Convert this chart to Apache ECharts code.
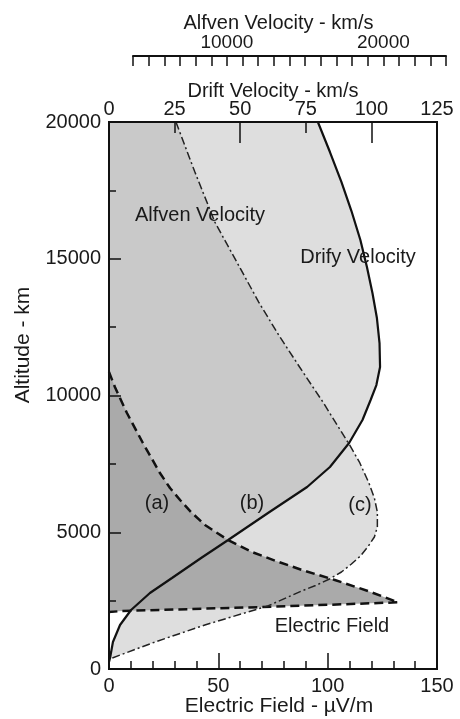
<!DOCTYPE html>
<html><head><meta charset="utf-8">
<script src="https://cdn.jsdelivr.net/npm/echarts@6/dist/echarts.min.js"></script>
<style>html,body{margin:0;padding:0;background:#fff}#c{width:460px;height:719px}</style>
</head><body><div id="c"></div>
<script>
// Drift velocity (km/s) vs altitude (km)
const DRIFT_CURVE = [
  [79.6,20000],[84.2,18902],[88.6,17805],[92.4,16745],[95.8,15685],[98.3,14698],
  [100.4,13747],[102.1,12833],[103.1,11919],[103.3,11041],[101.9,10383],[99.7,9835],
  [96.6,9104],[91.5,8263],[84.2,7385],[75.5,6654],[60.6,5703],[45.4,4716],[35.1,4058],
  [24.0,3327],[15.6,2779],[8.4,2157],[4.2,1609],[1.5,987],[0.4,402],[0,256]
];
// Alfven velocity (km/s) vs altitude (km)
const ALFVEN_CURVE = [
  [6761,20000],[7975,18170],[9253,16342],[10659,14879],[12064,13417],[13342,12211],
  [14684,11041],[16218,9725],[17686,8373],[17815,8263],[18518,7568],[19126,6800],
  [19477,6252],[19668,5740],[19668,5192],[19477,4826],[19093,4497],[18582,4131],
  [18007,3839],[17367,3546],[16600,3290],[15706,3053],[14812,2852],[12640,2303],
  [8614,1609],[5419,987],[2671,402],[2479,366]
];
// Electric field (uV/m) vs altitude (km)
const EFIELD_CURVE = [
  [0,10860],[2.7,10310],[8.2,9359],[15.5,8263],[23.3,7166],[27.9,6617],[32.5,6179],
  [37.5,5740],[43.9,5265],[54.4,4716],[65.4,4278],[76.4,3948],[88.3,3619],[103.3,3254],
  [118.4,2852],[132.2,2440],[119.4,2401],[74.5,2277],[5.9,2120],[0,2083]
];
const CROSS_ALT = 8263;      // drift / alfven crossing
const B_ALT = 4716;          // drift / e-field crossing (b)
const LOW_ALT = 2157;        // drift meets lower e-field edge
const REGION_LABELS = ['(a)','(b)','(c)'];

const FONT = '"Liberation Sans", Arial, sans-serif';
const TXT = '#1a1a1a';
const BLK = '#111';
const chart = echarts.init(document.getElementById('c'));

const tickStyle = {color: BLK, width: 1.5};
const option = {
  animation: false,
  backgroundColor: '#fff',
  grid: [
    {left: 109, right: 23, top: 122, bottom: 50, show: true, borderColor: BLK, borderWidth: 2,
     backgroundColor: 'transparent', z: 8, containLabel: false, outerBoundsMode: 'none'},
    {left: 133, right: 14, top: 55, height: 1, show: false, containLabel: false, outerBoundsMode: 'none'}
  ],
  xAxis: [
    {gridIndex: 0, type: 'value', position: 'bottom', min: 0, max: 150, interval: 50, z: 9,
     axisLine: {show: true, lineStyle: {color: BLK, width: 2}},
     axisTick: {show: true, inside: true, length: 16, lineStyle: tickStyle},
     minorTick: {show: true, splitNumber: 5, length: 8, lineStyle: tickStyle},
     axisLabel: {fontSize: 20, color: TXT, fontFamily: FONT, margin: 7},
     splitLine: {show: false}, minorSplitLine: {show: false},
     name: 'Electric Field - µV/m', nameLocation: 'middle', nameGap: 27, nameMoveOverlap: false,
     nameTextStyle: {fontSize: 21, color: TXT, fontFamily: FONT, padding: [0, 0, 0, 12]}},
    {gridIndex: 0, type: 'value', position: 'top', min: 0, max: 125, interval: 25, z: 9,
     axisLine: {show: true, lineStyle: {color: BLK, width: 2}},
     axisTick: {show: true, inside: true, length: 11, lineStyle: tickStyle},
     axisLabel: {fontSize: 20, color: TXT, fontFamily: FONT, margin: 3},
     splitLine: {show: false},
     name: 'Drift Velocity - km/s', nameLocation: 'middle', nameGap: 21, nameMoveOverlap: false,
     nameTextStyle: {fontSize: 20, color: TXT, fontFamily: FONT}},
    {gridIndex: 0, type: 'value', position: 'top', min: 0, max: 125, interval: 50, z: 9,
     axisLine: {show: false}, axisLabel: {show: false}, splitLine: {show: false},
     axisTick: {show: true, inside: true, length: 21, lineStyle: tickStyle}},
    {gridIndex: 0, type: 'value', position: 'top', min: 2470, max: 23490, show: false},
    {gridIndex: 1, type: 'value', position: 'top', min: 4000, max: 24000, interval: 1000, z: 9,
     axisLine: {show: true, lineStyle: {color: BLK, width: 2}},
     axisTick: {show: true, inside: true, length: 10, lineStyle: tickStyle},
     axisLabel: {fontSize: 19, color: TXT, fontFamily: FONT, margin: 3,
       formatter: v => (v % 10000 === 0 ? String(v) : '')},
     splitLine: {show: false},
     name: 'Alfven Velocity - km/s', nameLocation: 'middle', nameGap: 22, nameMoveOverlap: false,
     nameTextStyle: {fontSize: 20, color: TXT, fontFamily: FONT, padding: [0, 22, 0, 0]}}
  ],
  yAxis: [
    {gridIndex: 0, type: 'value', min: 0, max: 20000, interval: 5000, z: 9,
     axisLine: {show: true, lineStyle: {color: BLK, width: 2}},
     axisTick: {show: true, inside: true, length: 12, lineStyle: tickStyle},
     minorTick: {show: true, splitNumber: 2, length: 7, lineStyle: tickStyle},
     axisLabel: {fontSize: 20, color: TXT, fontFamily: FONT, margin: 8, formatter: v => String(v)},
     splitLine: {show: false}, minorSplitLine: {show: false}},
    {gridIndex: 1, type: 'value', show: false}
  ],
  series: [
    {type: 'line', name: 'Electric Field', xAxisIndex: 0, yAxisIndex: 0, data: EFIELD_CURVE,
     symbol: 'none', silent: true, z: 5, lineStyle: {color: BLK, width: 2.5, type: [9, 5]}},
    {type: 'line', name: 'Drift Velocity', xAxisIndex: 1, yAxisIndex: 0, data: DRIFT_CURVE,
     symbol: 'none', silent: true, z: 5, lineStyle: {color: BLK, width: 2.2}},
    {type: 'line', name: 'Alfven Velocity', xAxisIndex: 3, yAxisIndex: 0, data: ALFVEN_CURVE,
     symbol: 'none', silent: true, z: 5, lineStyle: {color: '#222', width: 1.5, type: [8, 3, 2, 3]}}
  ]
};
chart.setOption(option);

const pE = p => chart.convertToPixel({seriesIndex: 0}, p);
const pD = p => chart.convertToPixel({seriesIndex: 1}, p);
const pA = p => chart.convertToPixel({seriesIndex: 2}, p);

const driftUpper = DRIFT_CURVE.filter(p => p[1] >= CROSS_ALT);
const driftMid = DRIFT_CURVE.filter(p => p[1] <= CROSS_ALT && p[1] >= B_ALT);
const driftLow = DRIFT_CURVE.filter(p => p[1] <= LOW_ALT).reverse();
const alfUpper = ALFVEN_CURVE.filter(p => p[1] >= CROSS_ALT);
const alfLower = ALFVEN_CURVE.filter(p => p[1] <= CROSS_ALT);

const lightPts = [pD([0, 20000])].concat(driftUpper.map(pD), alfLower.map(pA), driftLow.map(pD), [pD([0, LOW_ALT])]);
const medPts = [pD([0, 20000])].concat(alfUpper.map(pA), driftMid.map(pD), [pD([0, B_ALT])]);
const darkPts = EFIELD_CURVE.map(pE);

const txt = (t, x, y, size, extra) => Object.assign({type: 'text', x: x, y: y, z: 7, silent: true,
  style: {text: t, font: size + 'px ' + FONT, fill: TXT, align: 'center', verticalAlign: 'middle'}}, extra || {});

chart.setOption({
  graphic: [
    {type: 'polygon', z: 1, silent: true, shape: {points: lightPts}, style: {fill: '#dedede'}},
    {type: 'polygon', z: 2, silent: true, shape: {points: medPts}, style: {fill: '#c9c9c9'}},
    {type: 'polygon', z: 3, silent: true, shape: {points: darkPts}, style: {fill: '#aaaaaa'}},
    txt('Alfven Velocity', 200, 215, 20),
    txt('Drify Velocity', 358, 257, 20),
    txt(REGION_LABELS[0], 157, 503, 20),
    txt(REGION_LABELS[1], 252, 503, 20),
    txt(REGION_LABELS[2], 360, 505, 20),
    txt('Electric Field', 332, 626, 20),
    txt('Altitude - km', 23, 345, 21, {rotation: Math.PI / 2})
  ]
});
</script>
</body></html>
